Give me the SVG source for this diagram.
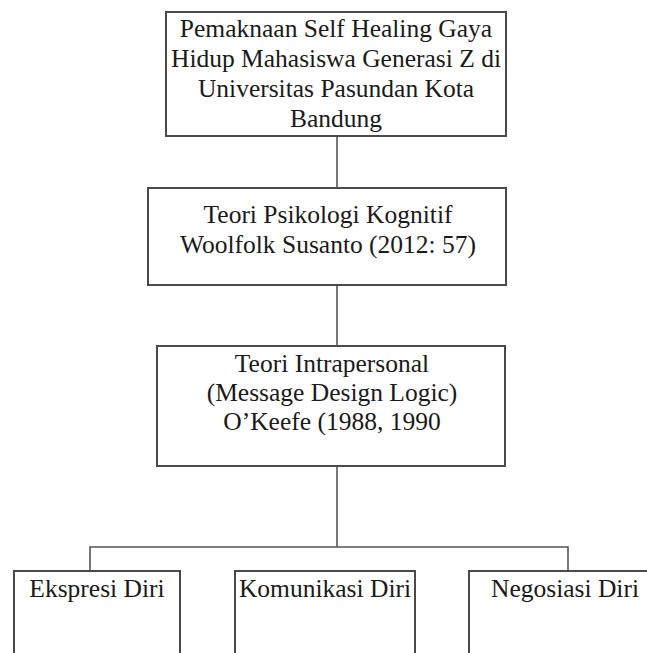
<svg xmlns="http://www.w3.org/2000/svg" width="647" height="653" viewBox="0 0 647 653">
<style>
.box{fill:#fff;stroke:#4a4a4a;stroke-width:2}
.t{font-family:"Liberation Serif","Times New Roman",serif;font-size:25.5px;fill:#1a1a1a;text-anchor:middle}
.c{stroke:#555;stroke-width:1.6;fill:none}
</style>
<rect width="647" height="653" fill="#fff"/>
<g id="connectors">
<line class="c" x1="337" y1="136" x2="337" y2="188"/>
<line class="c" x1="337" y1="285" x2="337" y2="346"/>
<line class="c" x1="337" y1="466" x2="337" y2="547"/>
<polyline class="c" points="90,571 90,547 568,547 568,571"/>
</g>
<g id="n1">
<rect class="box" x="166" y="12" width="340" height="124"/>
<text class="t" x="336" y="37">Pemaknaan Self Healing Gaya</text>
<text class="t" x="336" y="67">Hidup Mahasiswa Generasi Z di</text>
<text class="t" x="336" y="97">Universitas Pasundan Kota</text>
<text class="t" x="336" y="127">Bandung</text>
</g>
<g id="n2">
<rect class="box" x="148" y="188" width="358" height="97"/>
<text class="t" x="328" y="223">Teori Psikologi Kognitif</text>
<text class="t" x="328" y="253">Woolfolk Susanto (2012: 57)</text>
</g>
<g id="n3">
<rect class="box" x="157" y="346" width="348" height="120"/>
<text class="t" x="332" y="372">Teori Intrapersonal</text>
<text class="t" x="332" y="401">(Message Design Logic)</text>
<text class="t" x="332" y="430">O’Keefe (1988, 1990</text>
</g>
<g id="n4">
<rect class="box" x="14" y="571" width="166" height="100"/>
<text class="t" x="97" y="597">Ekspresi Diri</text>
</g>
<g id="n5">
<rect class="box" x="235" y="571" width="180" height="100"/>
<text class="t" x="325" y="597">Komunikasi Diri</text>
</g>
<g id="n6">
<rect class="box" x="469" y="571" width="192" height="100"/>
<text class="t" x="565" y="597">Negosiasi Diri</text>
</g>
</svg>
